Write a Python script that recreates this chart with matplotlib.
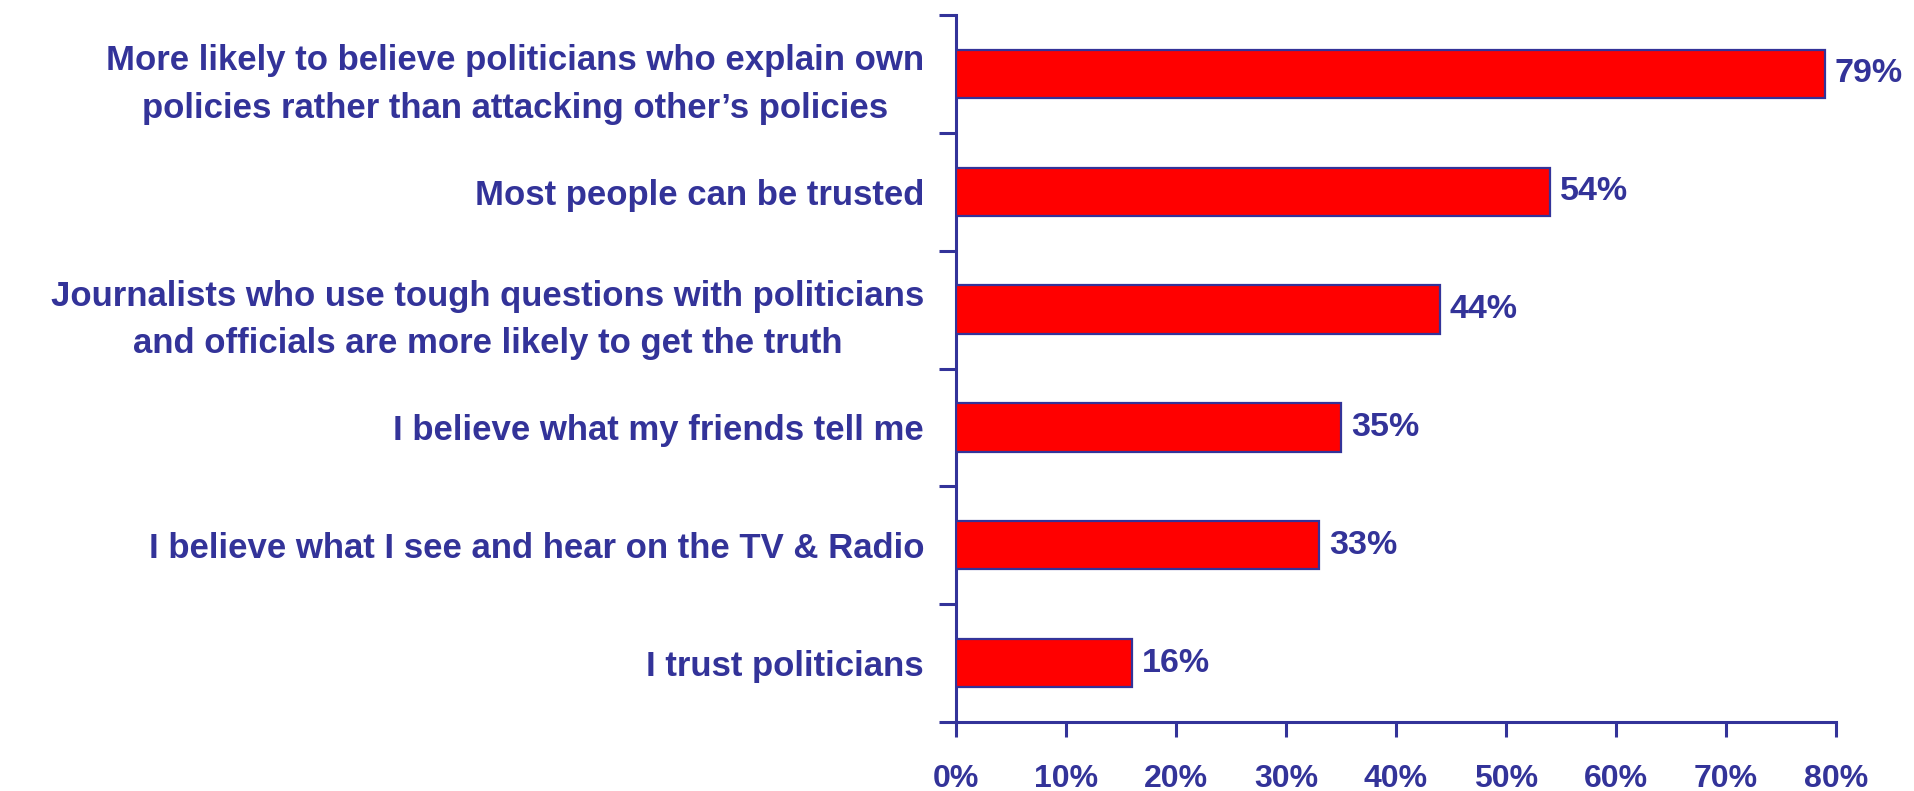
import matplotlib
matplotlib.use("Agg")
import matplotlib.pyplot as plt
import numpy as np

categories = [
    "More likely to believe politicians who explain own\npolicies rather than attacking other\u2019s policies",
    "Most people can be trusted",
    "Journalists who use tough questions with politicians\nand officials are more likely to get the truth",
    "I believe what my friends tell me",
    "I believe what I see and hear on the TV & Radio",
    "I trust politicians",
]
values = [79, 54, 44, 35, 33, 16]
x_ticks = [0, 10, 20, 30, 40, 50, 60, 70, 80]
x_tick_labels = [f"{t}%" for t in x_ticks]

NAVY = "#333399"
RED = "#FF0000"

plt.rcParams["font.family"] = ["Liberation Sans", "DejaVu Sans"]
plt.rcParams["font.weight"] = "bold"

fig = plt.figure(figsize=(19.14, 7.91), dpi=100)
ax = fig.add_axes([956 / 1914, 1 - 722 / 791, 880 / 1914, 707 / 791])

y = np.arange(len(categories))
ax.barh(y, values, height=0.41, color=RED, edgecolor=NAVY, linewidth=1.6, zorder=3)

for yi, v in zip(y, values):
    ax.annotate(f"{v}%", xy=(v, yi), xytext=(7, 0), textcoords="offset points",
                va="center", ha="left", fontsize=24.5, fontweight="bold", color=NAVY)

ax.set_xlim(0, 80)
ax.set_ylim(len(categories) - 0.5, -0.5)

# x axis
ax.set_xticks(x_ticks)
ax.set_xticklabels(x_tick_labels, fontsize=23, fontweight="bold", color=NAVY)
ax.tick_params(axis="x", direction="out", length=11, width=2.2, color=NAVY, pad=19)

# y axis: ticks at category boundaries, labels at centres
ax.set_yticks(np.arange(-0.5, len(categories), 1.0))
ax.set_yticklabels([])
ax.tick_params(axis="y", which="major", direction="out", length=12, width=2.2, color=NAVY)
ax.set_yticks(y, minor=True)
ax.set_yticklabels(categories, minor=True, fontsize=25, fontweight="bold",
                   color=NAVY, multialignment="center", linespacing=1.55)
ax.tick_params(axis="y", which="minor", length=0, pad=23)

for side in ("top", "right"):
    ax.spines[side].set_visible(False)
for side in ("left", "bottom"):
    ax.spines[side].set_color(NAVY)
    ax.spines[side].set_linewidth(2.2)

fig.savefig("out.png", dpi=100)
